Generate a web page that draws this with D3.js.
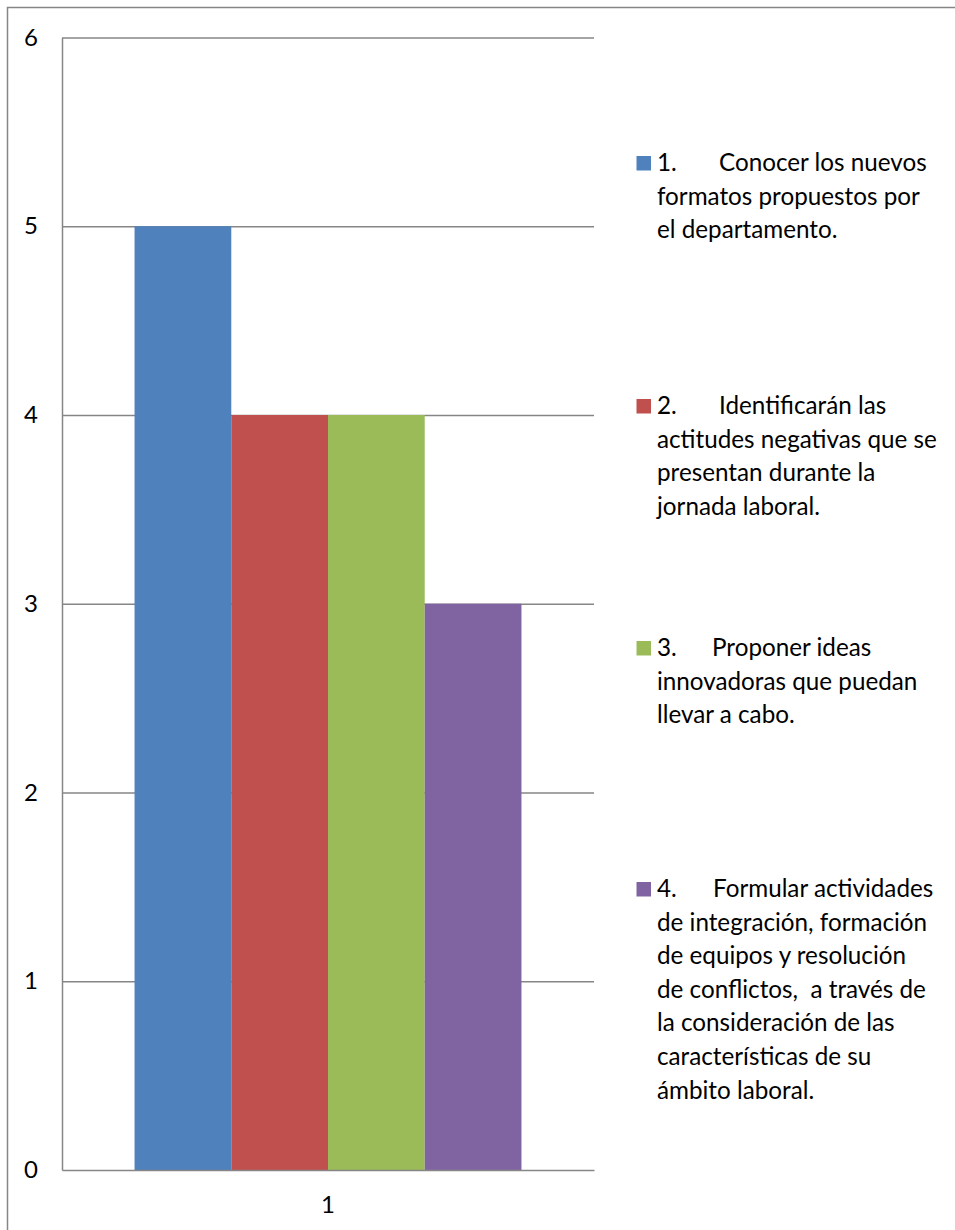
<!DOCTYPE html>
<html><head><meta charset="utf-8">
<script src="https://cdn.jsdelivr.net/npm/d3@7"></script>
<style>body{margin:0;background:#fff}svg{display:block}</style>
</head><body>
<script>
const categories = ["1"];
const seriesNames = ["1.", "2.", "3.", "4."];
const seriesValues = [5, 4, 4, 3];
const seriesColors = ["#4F81BD", "#C0504D", "#9BBB59", "#8064A2"];
const legendFirst = ["Conocer los nuevos", "Identificarán las", "Proponer ideas", "Formular actividades"];
const legendRest = [
  ["formatos propuestos por", "el departamento."],
  ["actitudes negativas que se", "presentan durante la", "jornada laboral."],
  ["innovadoras que puedan", "llevar a cabo."],
  ["de integración, formación", "de equipos y resolución", "de conflictos,  a través de", "la consideración de las", "características de su", "ámbito laboral."]
];
const yTicks = [0, 1, 2, 3, 4, 5, 6];

const W = 955, H = 1230;
const font = "Lato, 'Open Sans', sans-serif";
const svg = d3.select("body").append("svg").attr("width", W).attr("height", H);

// outer border
svg.append("path").attr("d", `M7.5,${H+5} V7.5 H${W+5}`).attr("fill", "none").attr("stroke", "#868686").attr("stroke-width", 1.5);

const plot = {l: 62, r: 594, t: 37.5, b: 1170};
const y = d3.scaleLinear().domain([0, 6]).range([plot.b, plot.t]);
const x0 = d3.scaleBand().domain(categories).range([plot.l, plot.r]).paddingInner(0).paddingOuter(0.1875);
const x1 = d3.scaleBand().domain(seriesNames).range([0, x0.bandwidth()]).padding(0);

// gridlines
svg.append("g").attr("transform", `translate(${plot.l},0)`)
  .call(d3.axisLeft(y).tickValues(yTicks.filter(d => d > 0)).tickSize(-(plot.r - plot.l)).tickFormat(""))
  .call(g => g.select(".domain").remove())
  .call(g => g.selectAll("line").attr("stroke", "#868686").attr("stroke-width", 1.5));

// bars
const cat = svg.append("g").selectAll("g").data(categories).join("g")
  .attr("transform", d => `translate(${x0(d)},0)`);
cat.selectAll("rect").data(seriesNames.map((s, i) => ({s, v: seriesValues[i], c: seriesColors[i]}))).join("rect")
  .attr("x", d => x1(d.s)).attr("width", x1.bandwidth())
  .attr("y", d => y(d.v)).attr("height", d => y(0) - y(d.v))
  .attr("fill", d => d.c);

// axes
svg.append("g").attr("transform", `translate(${plot.l},0)`)
  .call(d3.axisLeft(y).tickValues(yTicks).tickSize(0).tickPadding(24).tickFormat(d3.format("d")))
  .call(g => g.select(".domain").attr("stroke", "#868686").attr("stroke-width", 1.5))
  .call(g => g.selectAll("text").attr("font-family", font).attr("font-size", 24).attr("fill", "#000"));
svg.append("g").attr("transform", `translate(0,${plot.b})`)
  .call(d3.axisBottom(x0).tickSize(0).tickPadding(26))
  .call(g => g.select(".domain").attr("stroke", "#868686").attr("stroke-width", 1.5))
  .call(g => g.selectAll("text").attr("font-family", font).attr("font-size", 24).attr("fill", "#000"));

// legend
const legendBase = [171, 414, 656, 897];
const tabX = [719, 719, 712, 713];
const lineH = 33.6;
// fit font size to widest line
const probe = svg.append("text").attr("font-family", font).attr("font-size", 100).text("actitudes negativas que se");
const fs = Math.min(26, 100 * 280 / probe.node().getComputedTextLength());
probe.remove();
const leg = svg.append("g").attr("font-family", font).attr("font-size", fs).attr("fill", "#000");
seriesNames.forEach((s, i) => {
  const b = legendBase[i];
  leg.append("rect").attr("x", 636.5).attr("y", b - 15).attr("width", 14.5).attr("height", 14.5).attr("fill", seriesColors[i]);
  leg.append("text").attr("x", 657).attr("y", b).text(s);
  leg.append("text").attr("x", tabX[i]).attr("y", b).text(legendFirst[i]);
  legendRest[i].forEach((t, j) => {
    leg.append("text").attr("x", 657).attr("y", b + lineH * (j + 1)).attr("xml:space", "preserve").style("white-space", "pre").text(t);
  });
});
</script>
</body></html>
